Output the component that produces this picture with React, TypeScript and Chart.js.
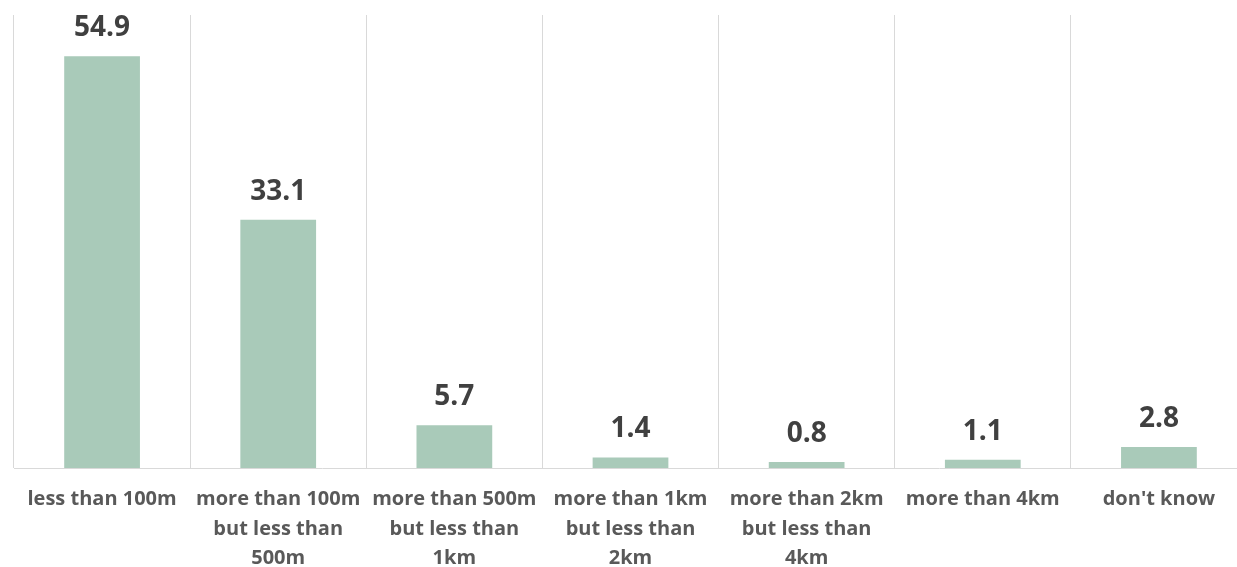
import React, { useEffect, useRef } from "react";
import { Chart, registerables } from "chart.js";

Chart.register(...registerables);

const categories: (string | string[])[] = [
  "less than 100m",
  ["more than 100m", "but less than", "500m"],
  ["more than 500m", "but less than", "1km"],
  ["more than 1km", "but less than", "2km"],
  ["more than 2km", "but less than", "4km"],
  "more than 4km",
  "don't know",
];
const values: number[] = [54.9, 33.1, 5.7, 1.4, 0.8, 1.1, 2.8];
const valueLabels: string[] = ["54.9", "33.1", "5.7", "1.4", "0.8", "1.1", "2.8"];

const BAR_COLOR = "rgb(169,202,185)";
const GRID_COLOR = "#d9d9d9";

const dataLabelPlugin = {
  id: "dataLabels",
  afterDatasetsDraw(chart: any) {
    const ctx = chart.ctx;
    const meta = chart.getDatasetMeta(0);
    ctx.save();
    ctx.font = "bold 28px 'Open Sans'";
    ctx.fillStyle = "#404040";
    ctx.textAlign = "center";
    ctx.textBaseline = "middle";
    meta.data.forEach((bar: any, i: number) => {
      ctx.fillText(valueLabels[i], bar.x, bar.y - 28);
    });
    ctx.restore();
  },
};

export default function App() {
  const ref = useRef<HTMLCanvasElement>(null);
  useEffect(() => {
    document.body.style.overflow = "hidden";
    const chart = new Chart(ref.current!, {
      type: "bar",
      data: {
        labels: categories,
        datasets: [
          {
            data: values,
            backgroundColor: BAR_COLOR,
            barPercentage: 0.43,
            categoryPercentage: 1,
          },
        ],
      },
      options: {
        animation: false,
        responsive: false,
        maintainAspectRatio: false,
        layout: { padding: { left: 14, right: 13, top: 15, bottom: 0 } },
        plugins: { legend: { display: false }, tooltip: { enabled: false } },
        scales: {
          x: {
            offset: true,
            grid: { display: true, color: GRID_COLOR, drawTicks: false, offset: true, lineWidth: 1 },
            border: { display: true, color: GRID_COLOR, width: 1 },
            ticks: {
              color: "#595959",
              font: { family: "'Open Sans'", weight: "bold", size: 20, lineHeight: 1.475 },
              maxRotation: 0,
              minRotation: 0,
              autoSkip: false,
              padding: 17,
            },
            afterFit: (scale: any) => {
              scale.height = 99;
            },
          },
          y: {
            display: false,
            min: 0,
            max: 60.4,
            grid: { display: false },
          },
        },
      },
      plugins: [dataLabelPlugin],
    });
    return () => chart.destroy();
  }, []);
  return (
    <div style={{ position: "absolute", left: 0, top: 0, width: 1260, height: 567 }}>
      <canvas ref={ref} width={1260} height={567} style={{ display: "block" }} />
    </div>
  );
}
